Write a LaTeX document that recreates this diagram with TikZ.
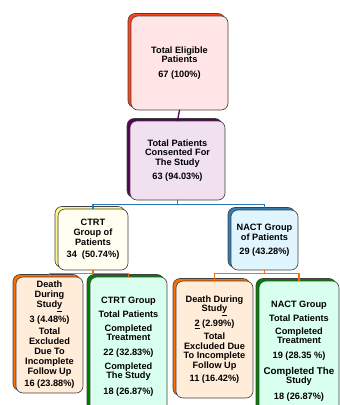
\documentclass[tikz,border=0pt]{standalone}
\usepackage{fontspec}
\setmainfont{Liberation Sans}
\usetikzlibrary{shadows}

\begin{document}
\begin{tikzpicture}
		[x=1pt,y=-1pt,line cap=round,
		%Styles
		box/.style={draw=black!75,line width=0.6pt,rounded corners=7pt,align=center,
			font=\fontsize{9.2}{9.8}\selectfont\bfseries,inner sep=0pt,
			copy shadow={shadow xshift=-3pt,shadow yshift=2.5pt,fill=#1,draw=black!75}},
		tight/.style={font=\fontsize{9.2}{8.8}\selectfont\bfseries},
		link/.style={line width=1.3pt,draw=#1}
		]
		
		%Colors
		\colorlet{redback}{red!65!orange!90!white}
		\colorlet{purpleback}{violet!70!black}
		\colorlet{yellowback}{yellow!45!white}
		\colorlet{blueback}{cyan!70!blue!80!black}
		\colorlet{orangeback}{orange!85!red}
		\colorlet{greenback}{green!50!black}
		\colorlet{busblue}{cyan!60!blue!85!black}
		
		\useasboundingbox (0,0) rectangle (340,405);
		
		%The graphic
		\node[box=redback,fill=red!10,minimum width=97pt,minimum height=94pt] (eligible) at (179.5,63)
			{Total Eligible\\Patients\\[5pt]67 (100\%)};
		\node[box=purpleback,fill=violet!12,minimum width=95pt,minimum height=79pt] (consent) at (177.5,160.5)
			{Total Patients\\Consented For\\The Study\\[4pt]63 (94.03\%)};
		\node[box=yellowback,fill=yellow!6,minimum width=70pt,minimum height=61pt] (ctrt) at (93,239.5)
			{CTRT\\Group of\\Patients\\[3pt]34\ \ (50.74\%)};
		\node[box=blueback,fill=cyan!12,minimum width=67pt,minimum height=60pt] (nact) at (264.5,240)
			{NACT Group\\of Patients\\[4pt]29 (43.28\%)};
		
		\node[box=orangeback,fill=orange!15,minimum width=67pt,minimum height=116pt] (deathctrt) at (49.5,335)
			{Death\\During\\Stud\underline{y}\\[3pt]3 (4.48\%)\\[3pt]Total\\Excluded\\Due To\\Incomplete\\Follow Up\\[3pt]16 (23.88\%)};
		\node[box=greenback,tight,fill=green!45!cyan!15,minimum width=77pt,minimum height=140pt] (donectrt) at (128.5,347)
			{CTRT Group\\[5pt]Total Patients\\[5pt]Completed\\Treatment\\[6pt]22 (32.83\%)\\[6pt]Completed\\The Study\\[7pt]18 (26.87\%)};
		
		\node[box=orangeback,fill=orange!15,minimum width=77pt,minimum height=117pt] (deathnact) at (214.5,339.5)
			{Death During\\Stud\underline{y}\\[3pt]\underline{2} (2.99\%)\\[3pt]Total\\Excluded Due\\To Incomplete\\Follow Up\\[3pt]11 (16.42\%)};
		\node[box=greenback,tight,fill=green!45!cyan!15,minimum width=80pt,minimum height=140pt] (donenact) at (299,351)
			{NACT Group\\[5pt]Total Patients\\[5pt]Completed\\Treatment\\[6pt]19 (28.35 \%)\\[6pt]{\fontsize{9.8}{8.8}\selectfont Completed The}\\Study\\[7pt]18 (26.87\%)};
		
		%Connectors
		\draw[link=purpleback] (eligible.south) -- (consent.north);
		\draw[link=busblue] (consent.south) -- ++(0,4) coordinate (busa);
		\draw[link=busblue] (ctrt.north) |- (busa) -| (nact.north);
		\draw[link=orangeback] (ctrt.south) -- ++(0,3) coordinate (busb);
		\draw[link=orangeback] (deathctrt.north) |- (busb) -| (donectrt.north);
		\draw[link=orangeback] (nact.south) -- ++(0,3) coordinate (busc);
		\draw[link=orangeback] (deathnact.north) |- (busc) -| (donenact.north);
	\end{tikzpicture}
\end{document}
